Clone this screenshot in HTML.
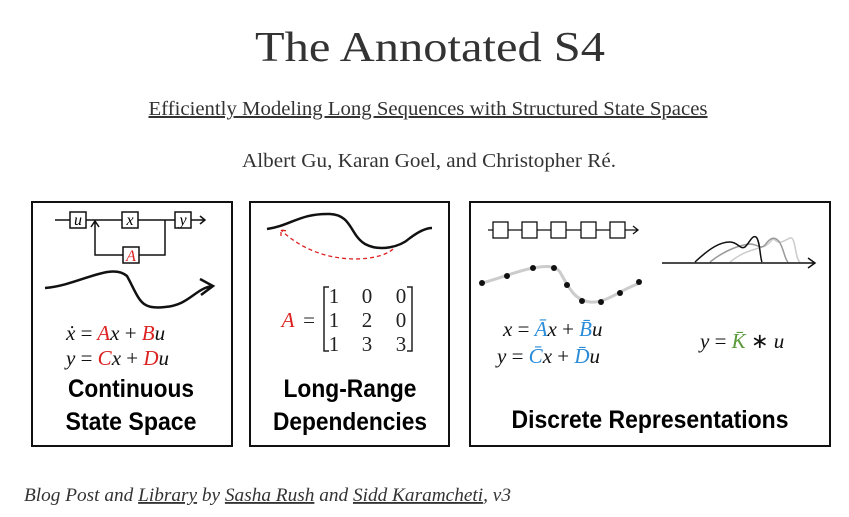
<!DOCTYPE html>
<html><head><meta charset="utf-8"><style>
html,body{margin:0;padding:0;background:#fff;}
svg{display:block}
</style></head><body>
<svg width="849" height="517" viewBox="0 0 849 517" xmlns="http://www.w3.org/2000/svg">
<g font-family="Liberation Serif, serif" fill="#333" text-anchor="middle">
<text x="430" y="61" font-size="42" textLength="350" lengthAdjust="spacingAndGlyphs">The Annotated S4</text>
<text x="428" y="115" font-size="20" text-decoration="underline" textLength="559" lengthAdjust="spacingAndGlyphs">Efficiently Modeling Long Sequences with Structured State Spaces</text>
<text x="429" y="167" font-size="19.5" textLength="374" lengthAdjust="spacingAndGlyphs">Albert Gu, Karan Goel, and Christopher Ré.</text>
</g>
<text x="24" y="501" font-family="Liberation Serif, serif" font-size="18.5" font-style="italic" fill="#333" textLength="487" lengthAdjust="spacingAndGlyphs">Blog Post and <tspan text-decoration="underline">Library</tspan> by <tspan text-decoration="underline">Sasha Rush</tspan> and <tspan text-decoration="underline">Sidd Karamcheti</tspan>, v3</text>

<g fill="none" stroke="#111" stroke-width="2">
<rect x="32" y="202" width="200" height="244"/>
<rect x="250" y="202" width="199" height="244"/>
<rect x="470" y="202" width="360" height="244"/>
</g>

<!-- Box1 -->
<g stroke="#111" stroke-width="1.5" fill="none">
<path d="M55 220H70M86 220H122M138 220H175M191 220H205M200 216l5 4-5 4"/>
<path d="M165 220V255H139M123 255H95V222M91 227l4-6 4 6"/>
<rect x="70" y="212" width="16" height="16" fill="#fff"/>
<rect x="122" y="212" width="16" height="16" fill="#fff"/>
<rect x="175" y="212" width="16" height="16" fill="#fff"/>
<rect x="123" y="247" width="16" height="16" fill="#fff"/>
<path stroke-width="2.5" d="M45 288C80 285 110 262 127 276C140 300 140 310 165 307C190 305 195 288 213 286M200 279l13 7-12 9"/>
</g>
<g font-family="Liberation Serif, serif" font-style="italic" text-anchor="middle" font-size="16">
<text x="78" y="225">u</text><text x="130" y="225">x</text><text x="183" y="225">y</text><text x="131" y="261" fill="#d22">A</text>
</g>
<g font-family="Liberation Serif, serif" font-style="italic" font-size="21" fill="#111">
<text x="66" y="340">ẋ <tspan font-style="normal">=</tspan> <tspan fill="#d22">A</tspan>x <tspan font-style="normal">+</tspan> <tspan fill="#d22">B</tspan>u</text>
<text x="66" y="365">y  <tspan font-style="normal">=</tspan> <tspan fill="#d22">C</tspan>x <tspan font-style="normal">+</tspan> <tspan fill="#d22">D</tspan>u</text>
</g>
<g font-family="Liberation Sans, sans-serif" font-weight="bold" font-size="25" fill="#000" text-anchor="middle">
<text x="131" y="397" textLength="126" lengthAdjust="spacingAndGlyphs">Continuous</text>
<text x="131" y="430" textLength="131" lengthAdjust="spacingAndGlyphs">State Space</text>
<text x="350" y="397" textLength="133" lengthAdjust="spacingAndGlyphs">Long-Range</text>
<text x="350" y="430" textLength="154" lengthAdjust="spacingAndGlyphs">Dependencies</text>
<text x="650" y="428" textLength="277" lengthAdjust="spacingAndGlyphs">Discrete Representations</text>
</g>

<!-- Box2 -->
<g fill="none">
<path stroke="#111" stroke-width="2.5" d="M267 229C290 226 300 213 330 214C352 215 350 235 365 244C380 252 400 247 410 238C418 232 425 228 432 228"/>
<path stroke="#d22" stroke-width="1.3" stroke-dasharray="4,3" d="M393 249C380 262 320 268 281 230M281 236l0-6 6 1"/>
<path stroke="#222" stroke-width="1.5" d="M329 287h-5v64h5M407 287h5v64h-5"/>
</g>
<g font-family="Liberation Serif, serif" font-size="21" fill="#222" text-anchor="middle">
<text x="288" y="327" fill="#d22" font-style="italic">A</text><text x="309" y="327">=</text>
<text x="334" y="303">1</text><text x="367" y="303">0</text><text x="401" y="303">0</text>
<text x="334" y="327">1</text><text x="367" y="327">2</text><text x="401" y="327">0</text>
<text x="334" y="351">1</text><text x="367" y="351">3</text><text x="401" y="351">3</text>
</g>

<!-- Box3 -->
<g stroke="#111" stroke-width="1.3" fill="#fff">
<path d="M488 230H638M633 226l5 4-5 4" fill="none"/>
<rect x="493" y="222" width="15" height="16"/><rect x="522" y="222" width="15" height="16"/>
<rect x="551" y="222" width="15" height="16"/><rect x="581" y="222" width="15" height="16"/>
<rect x="610" y="222" width="15" height="16"/>
</g>
<path fill="none" stroke="#ccc" stroke-width="3" d="M482 283C495 280 520 270 533 268C545 266 555 265 560 272C570 290 575 300 590 302C605 304 620 290 640 283"/>
<g fill="#111">
<circle cx="482" cy="283" r="3"/><circle cx="507" cy="276" r="3"/><circle cx="533" cy="268" r="3"/><circle cx="554" cy="268" r="3"/>
<circle cx="567" cy="285" r="3"/><circle cx="582" cy="301" r="3"/><circle cx="601" cy="302" r="3"/><circle cx="620" cy="293" r="3"/><circle cx="639" cy="282" r="3"/>
</g>
<g fill="none" stroke-width="1.5">
<path stroke="#ccc" d="M730 262C745 250 755 250 765 246C775 240 770 238 775 240C780 245 785 240 790 238C796 236 795 260 800 262"/>
<path stroke="#999" d="M710 262C725 250 740 245 750 244C758 244 760 250 765 245C770 238 775 235 780 243C784 250 785 260 788 262"/>
<path stroke="#111" d="M695 262C710 248 720 242 730 242C738 242 740 250 745 247C750 242 752 235 756 237C760 240 760 258 762 262"/>
<path stroke="#111" d="M662 263H815M808 258l7 5-7 5"/>
</g>
<g font-family="Liberation Serif, serif" font-style="italic" font-size="21" fill="#111">
<text x="503" y="336">x <tspan font-style="normal">=</tspan> <tspan fill="#2a8bd8">Ā</tspan>x <tspan font-style="normal">+</tspan> <tspan fill="#2a8bd8">B̄</tspan>u</text>
<text x="497" y="363">y  <tspan font-style="normal">=</tspan> <tspan fill="#2a8bd8">C̄</tspan>x <tspan font-style="normal">+</tspan> <tspan fill="#2a8bd8">D̄</tspan>u</text>
<text x="700" y="348">y <tspan font-style="normal">=</tspan> <tspan fill="#5a9a3a">K̄</tspan> <tspan font-style="normal">∗</tspan> u</text>
</g>
</svg>
</body></html>
